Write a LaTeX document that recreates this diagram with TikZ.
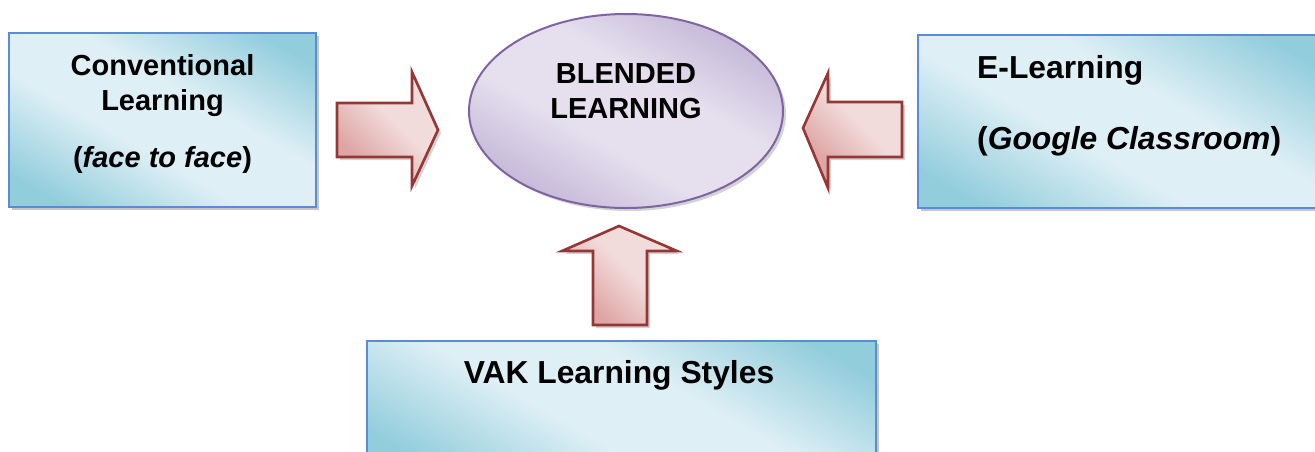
\documentclass[tikz,border=0pt]{standalone}
\usepackage{fontspec}
\setmainfont{Liberation Sans}
\usetikzlibrary{shadows}
\definecolor{bdark}{HTML}{92CDDC}
\definecolor{blight}{HTML}{DEEFF5}
\definecolor{bborder}{HTML}{5B8BD6}
\definecolor{adark}{HTML}{DDA5A4}
\definecolor{alight}{HTML}{F2DCDB}
\definecolor{aborder}{HTML}{953735}
\definecolor{edark}{HTML}{C3B6D7}
\definecolor{elight}{HTML}{E6E0EE}
\definecolor{eborder}{HTML}{8064A2}
\pgfdeclarehorizontalshading{boxshade}{100bp}{color(0bp)=(bdark); color(22bp)=(bdark); color(42bp)=(blight); color(58bp)=(blight); color(78bp)=(bdark); color(100bp)=(bdark)}
\pgfdeclarehorizontalshading{arrowshade}{100bp}{color(0bp)=(adark); color(30bp)=(adark); color(55bp)=(alight); color(100bp)=(alight)}
\pgfdeclarehorizontalshading{ellshade}{100bp}{color(0bp)=(edark); color(24bp)=(edark); color(42bp)=(elight); color(58bp)=(elight); color(76bp)=(edark); color(100bp)=(edark)}
\tikzset{
  boxstyle/.style={draw=bborder, line width=2pt, shading=boxshade, shading angle=60,
    drop shadow={shadow xshift=3pt, shadow yshift=-3pt, opacity=0.45, fill=gray}},
  arrowstyle/.style={draw=aborder, line width=2.6pt, line join=miter, shading=arrowshade, shading angle=45,
    drop shadow={shadow xshift=3pt, shadow yshift=-3pt, opacity=0.35, fill=gray}},
  ellstyle/.style={draw=eborder, line width=2pt, shading=ellshade, shading angle=60,
    drop shadow={shadow xshift=3pt, shadow yshift=-3pt, opacity=0.35, fill=gray}},
  txt/.style={inner sep=0pt, anchor=base, font=\fontsize{29}{35}\selectfont\bfseries},
  txtb/.style={inner sep=0pt, anchor=base, font=\fontsize{31.8}{38}\selectfont\bfseries},
  txtl/.style={inner sep=0pt, anchor=base west, font=\fontsize{31.8}{38}\selectfont\bfseries}
}
\begin{document}
\begin{tikzpicture}[x=1pt,y=-1pt]
\useasboundingbox (0,0) rectangle (1315,451);
% boxes
\path[boxstyle] (9,33) rectangle (316,207);
\node[inner sep=0pt] (conv) at (162.5,120) {};
\path[boxstyle] (918,35) rectangle (1330,208);
\node[inner sep=0pt] (elearn) at (1116,121) {};
\path[boxstyle] (367,341) rectangle (876,470);
\node[inner sep=0pt] (vak) at (621,400) {};
% ellipse
\path[ellstyle] (626,111) ellipse [x radius=157, y radius=97];
\node[inner sep=0pt] (blend) at (626,111) {};
% arrows
\path[arrowstyle] (337,103) -- (412,103) -- (412,72) -- (438,130) -- (412,186) -- (412,157) -- (337,157) -- cycle;
\path[arrowstyle] (902,102) -- (828,102) -- (828,73) -- (803,128) -- (828,188) -- (828,157) -- (902,157) -- cycle;
\path[arrowstyle] (593,325) -- (593,251) -- (562,251) -- (619,226) -- (677,251) -- (647,251) -- (647,325) -- cycle;
% texts
\node[txt] (t1) at (162.5,75) {Conventional};
\node[txt] (t2) at (162.5,110) {Learning};
\node[txt] (t3) at (162.5,167) {(\textit{face to face})};
\node[txtl] (t4) at (977,78) {E-Learning};
\node[txtl] (t5) at (977,149) {(\textit{Google Classroom})};
\node[txt] (t6) at (626,83) {BLENDED};
\node[txt] (t7) at (626,118) {LEARNING};
\node[txtb] (t8) at (619,383) {VAK Learning Styles};
\end{tikzpicture}
\end{document}
